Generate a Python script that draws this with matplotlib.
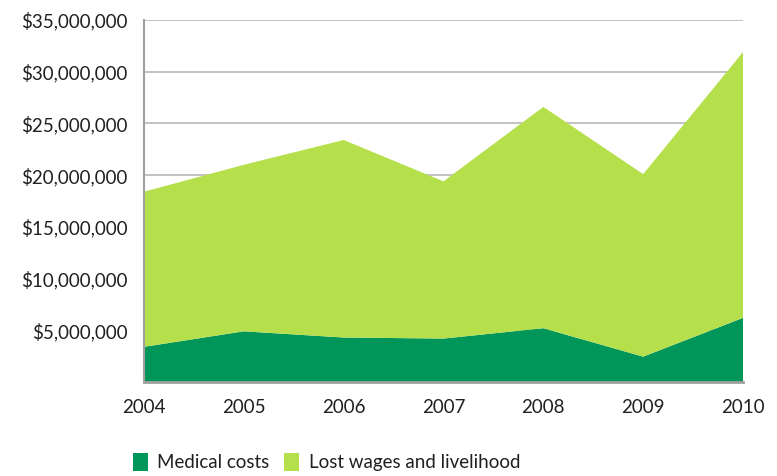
import matplotlib
matplotlib.use("Agg")
import matplotlib.pyplot as plt
from matplotlib.patches import Patch
from matplotlib.ticker import FuncFormatter

years = [2004, 2005, 2006, 2007, 2008, 2009, 2010]
medical_costs = [3.4e6, 4.9e6, 4.3e6, 4.2e6, 5.2e6, 2.45e6, 6.2e6]
lost_wages = [15.0e6, 16.1e6, 19.1e6, 15.2e6, 21.4e6, 17.65e6, 25.7e6]
series_labels = ["Medical costs", "Lost wages and livelihood"]
y_ticks = [5e6, 10e6, 15e6, 20e6, 25e6, 30e6, 35e6]

dark_green = "#00965A"
light_green = "#B5E04C"
text_color = "#231F20"

plt.rcParams['font.family'] = ['Lato', 'DejaVu Sans']

fig = plt.figure(figsize=(7.77, 4.76), dpi=100)
ax = fig.add_axes([144/777, 1-382/476, (743-144)/777, (382-20)/476])

ax.stackplot(years, medical_costs, lost_wages, colors=[dark_green, light_green],
             linewidth=0, zorder=2)

ax.set_xlim(2004, 2010)
ax.set_ylim(0, 35e6)
ax.set_yticks(y_ticks)
ax.yaxis.set_major_formatter(FuncFormatter(lambda v, p: "${:,.0f}".format(v)))
ax.set_xticks(years)
ax.set_xticklabels([str(y) for y in years])
ax.grid(axis='y', color="#BDBDBD", linewidth=1.3, zorder=0)
ax.set_axisbelow(True)
for s in ['top', 'right']:
    ax.spines[s].set_visible(False)
ax.spines['left'].set_color("#A0A0A0")
ax.spines['left'].set_linewidth(1.5)
ax.spines['bottom'].set_color("#A0A0A0")
ax.spines['bottom'].set_linewidth(2)
ax.spines['left'].set_zorder(3)
ax.spines['bottom'].set_zorder(3)
ax.tick_params(axis='both', length=0, colors=text_color)
ax.tick_params(axis='y', pad=12, labelsize=13.5)
ax.tick_params(axis='x', pad=12, labelsize=13.5)

handles = [Patch(facecolor=dark_green, edgecolor='none'),
           Patch(facecolor=light_green, edgecolor='none')]
fig.legend(handles, series_labels, loc='lower center', bbox_to_anchor=(0.42, -0.025),
           ncol=2, frameon=False, fontsize=13.5, handlelength=0.8, handleheight=1.1,
           handletextpad=0.5, columnspacing=0.8, labelcolor=text_color)

fig.savefig("out.png", dpi=100)
